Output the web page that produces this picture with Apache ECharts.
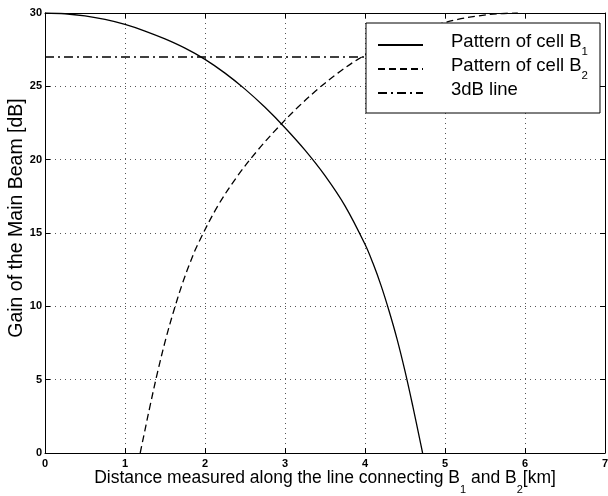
<!DOCTYPE html>
<html>
<head>
<meta charset="utf-8">
<script src="https://cdn.jsdelivr.net/npm/echarts@6/dist/echarts.min.js"></script>
<style>
  html, body { margin: 0; padding: 0; background: #fff; }
  #chart { width: 608px; height: 496px; }
</style>
</head>
<body>
<div id="chart"></div>
<script>
// Axis ticks
const xTicks = [0, 1, 2, 3, 4, 5, 6, 7];
const yTicks = [0, 5, 10, 15, 20, 25, 30];

// Main-beam gain of cell B1 along the B1-B2 line
const cellB1Distance = [0, 0.25, 0.5, 0.75, 1.0, 1.25, 1.5, 1.75, 2.0, 2.25, 2.5, 2.75, 3.0, 3.25, 3.5, 3.75, 4.0, 4.1, 4.2, 4.3, 4.4, 4.5, 4.6, 4.68, 4.72];
const cellB1Gain     = [30, 29.95, 29.8, 29.56, 29.22, 28.77, 28.23, 27.6, 26.84, 25.9, 24.81, 23.57, 22.18, 20.65, 18.91, 16.85, 14.23, 12.93, 11.43, 9.7, 7.78, 5.58, 3.13, 1.05, 0];

// Main-beam gain of cell B2 along the same line
const cellB2Distance = [1.19, 1.23, 1.31, 1.41, 1.51, 1.61, 1.71, 1.81, 1.91, 2.16, 2.41, 2.66, 2.91, 3.16, 3.41, 3.66, 3.91, 4.16, 4.41, 4.66, 4.91, 5.16, 5.41, 5.66, 5.91];
const cellB2Gain     = [0, 1.05, 3.13, 5.58, 7.78, 9.7, 11.43, 12.93, 14.23, 16.85, 18.91, 20.65, 22.18, 23.57, 24.81, 25.9, 26.84, 27.6, 28.23, 28.77, 29.22, 29.56, 29.8, 29.95, 30];

// Half-power (3 dB below peak) reference
const halfPowerDistance = [0, 5.91];
const halfPowerGain     = [27, 27];

const seriesNames = ['Pattern of cell B1', 'Pattern of cell B2', '3dB line'];

const FONT = 'Liberation Sans, Arial, Helvetica, sans-serif';

function pairs(xs, ys) {
  return xs.map((x, i) => [x, ys[i]]);
}

const gridLine = { show: true, lineStyle: { type: [1, 4], color: '#555', width: 1 } };
const frameLine = { show: true, onZero: false, lineStyle: { color: '#000', width: 1 } };
const innerTick = { show: true, inside: true, length: 5, lineStyle: { color: '#000' } };

// Rich text: main run hangs from the top of the line box, subscripts sit at its bottom
function richText(size, subSize, boxHeight) {
  return {
    m: { fontSize: size, lineHeight: size, verticalAlign: 'top', fontFamily: FONT, color: '#000' },
    s: { fontSize: subSize, lineHeight: boxHeight, verticalAlign: 'bottom', fontFamily: FONT, color: '#000' },
    p: { fontSize: size, lineHeight: boxHeight, verticalAlign: 'top', fontFamily: FONT, color: '#000' }
  };
}

const chart = echarts.init(document.getElementById('chart'), null, { renderer: 'canvas' });

chart.setOption({
  animation: false,
  backgroundColor: '#fff',
  grid: { left: 45, right: 3, top: 13, bottom: 43, containLabel: false, outerBoundsMode: 'none' },
  xAxis: [
    {
      type: 'value',
      min: xTicks[0], max: xTicks[xTicks.length - 1], interval: xTicks[1] - xTicks[0],
      axisLine: frameLine,
      axisTick: innerTick,
      splitLine: gridLine,
      axisLabel: { color: '#000', fontSize: 11, fontWeight: 'bold', fontFamily: FONT, margin: 5 },
      name: '{m|Distance measured along the line connecting B}{s|1}{m| and B}{s|2}{m|[km]}',
      nameLocation: 'middle',
      nameGap: 16,
      nameMoveOverlap: false,
      nameTextStyle: { color: '#000', rich: richText(17.5, 11, 26) }
    },
    {
      type: 'value', position: 'top',
      min: xTicks[0], max: xTicks[xTicks.length - 1], interval: xTicks[1] - xTicks[0],
      axisLine: frameLine, axisTick: innerTick,
      axisLabel: { show: false }, splitLine: { show: false }
    }
  ],
  yAxis: [
    {
      type: 'value',
      min: yTicks[0], max: yTicks[yTicks.length - 1], interval: yTicks[1] - yTicks[0],
      axisLine: frameLine,
      axisTick: innerTick,
      splitLine: gridLine,
      axisLabel: { color: '#000', fontSize: 11, fontWeight: 'bold', fontFamily: FONT, margin: 3 },
      name: 'Gain of the Main Beam [dB]',
      nameLocation: 'middle',
      nameGap: 18,
      nameMoveOverlap: false,
      nameTextStyle: { color: '#000', fontSize: 19.5, fontFamily: FONT, padding: [0, 0, 0, 30] }
    },
    {
      type: 'value', position: 'right',
      min: yTicks[0], max: yTicks[yTicks.length - 1], interval: yTicks[1] - yTicks[0],
      axisLine: frameLine, axisTick: innerTick,
      axisLabel: { show: false }, splitLine: { show: false }
    }
  ],
  legend: {
    orient: 'vertical',
    left: 366, top: 23,
    padding: [9, 12, 14, 11],
    itemWidth: 45, itemHeight: 14, itemGap: -2,
    backgroundColor: '#fff',
    borderColor: '#000', borderWidth: 1, borderRadius: 0,
    itemStyle: { opacity: 0 },
    data: seriesNames,
    formatter: function (name) {
      const m = name.match(/^(.*B)(\d)$/);
      return m ? '{m|' + m[1] + '}{s|' + m[2] + '}' : '{p|' + name + '}';
    },
    textStyle: {
      color: '#000',
      padding: [0, 0, 0, 23],
      rich: richText(18.5, 11.5, 26)
    }
  },
  series: [
    {
      name: seriesNames[0], type: 'line', symbol: 'none', smooth: 0.35,
      data: pairs(cellB1Distance, cellB1Gain),
      lineStyle: { color: '#000', width: 1.3, type: 'solid' },
      itemStyle: { color: '#000' }
    },
    {
      name: seriesNames[1], type: 'line', symbol: 'none', smooth: 0.35,
      data: pairs(cellB2Distance, cellB2Gain),
      lineStyle: { color: '#000', width: 1.3, type: [7, 4] },
      itemStyle: { color: '#000' }
    },
    {
      name: seriesNames[2], type: 'line', symbol: 'none',
      data: pairs(halfPowerDistance, halfPowerGain),
      lineStyle: { color: '#000', width: 1.3, type: [9, 4, 2, 4] },
      itemStyle: { color: '#000' }
    }
  ]
});
</script>
</body>
</html>
